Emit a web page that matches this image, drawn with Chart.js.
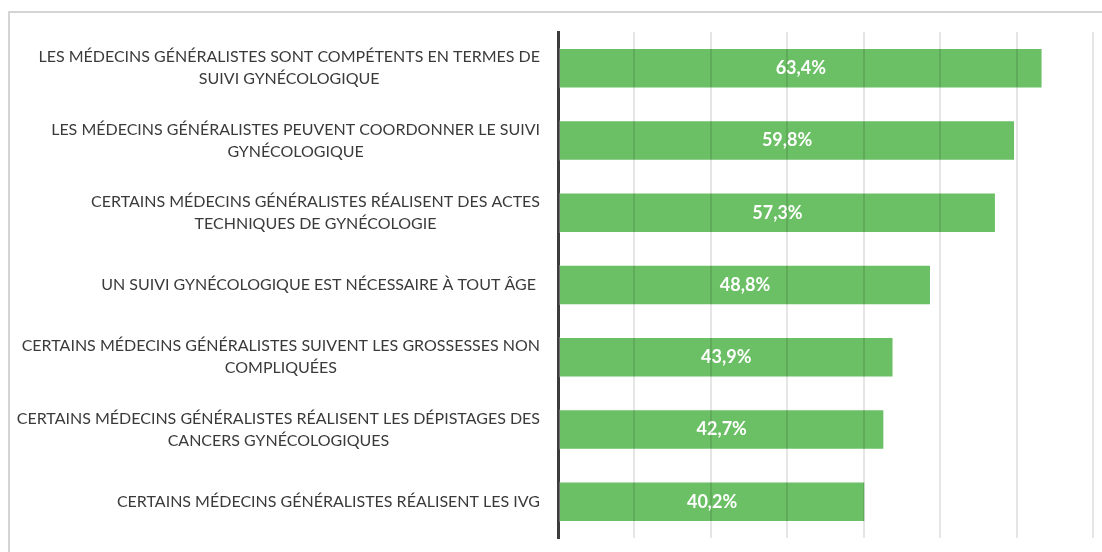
<!DOCTYPE html>
<html>
<head>
<meta charset="utf-8">
<script src="https://cdn.jsdelivr.net/npm/chart.js@4"></script>
<style>
  body { margin: 0; background: #fff; }
  #wrap { position: relative; width: 1102px; height: 552px; }
  #frame { position: absolute; left: 8px; top: 11px; right: -10px; bottom: -10px;
           border-top: 2px solid #d4d4d4; border-left: 2px solid #d4d4d4; }
</style>
</head>
<body>
<div id="wrap">
  <div id="frame"></div>
  <canvas id="chart"></canvas>
</div>
<script>
// libellés des affirmations (une ligne par entrée)
const categories = [
  ['LES MÉDECINS GÉNÉRALISTES SONT COMPÉTENTS EN TERMES DE', 'SUIVI GYNÉCOLOGIQUE'],
  ['LES MÉDECINS GÉNÉRALISTES PEUVENT COORDONNER LE SUIVI', 'GYNÉCOLOGIQUE'],
  ['CERTAINS MÉDECINS GÉNÉRALISTES RÉALISENT DES ACTES', 'TECHNIQUES DE GYNÉCOLOGIE'],
  ['UN SUIVI GYNÉCOLOGIQUE EST NÉCESSAIRE À TOUT ÂGE '],
  ['CERTAINS MÉDECINS GÉNÉRALISTES SUIVENT LES GROSSESSES NON', 'COMPLIQUÉES'],
  ['CERTAINS MÉDECINS GÉNÉRALISTES RÉALISENT LES DÉPISTAGES DES', 'CANCERS GYNÉCOLOGIQUES'],
  ['CERTAINS MÉDECINS GÉNÉRALISTES RÉALISENT LES IVG']
];
const valeurs = [63.4, 59.8, 57.3, 48.8, 43.9, 42.7, 40.2];
const xTicks = [0, 10, 20, 30, 40, 50, 60, 70];

const labelFont = '16px Lato, "Open Sans", sans-serif';

// libellés à gauche : bloc aligné à droite, lignes centrées
const labelsPlugin = {
  id: 'blocLabels',
  afterDraw(chart) {
    const { ctx } = chart;
    const y = chart.scales.y;
    ctx.save();
    ctx.font = labelFont;
    ctx.fillStyle = '#3a3a3a';
    ctx.textAlign = 'center';
    ctx.textBaseline = 'middle';
    categories.forEach((lines, i) => {
      const cy = y.getPixelForTick(i);
      const w = Math.max(...lines.map(l => ctx.measureText(l).width));
      const cx = 540 - w / 2;
      const lh = 22;
      lines.forEach((l, j) => {
        ctx.fillText(l, cx, cy + (j - (lines.length - 1) / 2) * lh);
      });
    });
    ctx.restore();
  }
};

// valeurs en blanc au centre des barres
const valuesPlugin = {
  id: 'valeurs',
  afterDatasetsDraw(chart) {
    const { ctx } = chart;
    const meta = chart.getDatasetMeta(0);
    ctx.save();
    ctx.font = 'bold 18px Lato, "Open Sans", sans-serif';
    ctx.fillStyle = '#ffffff';
    ctx.textAlign = 'center';
    ctx.textBaseline = 'middle';
    meta.data.forEach((bar, i) => {
      const mid = (bar.x + bar.base) / 2;
      ctx.fillText(valeurs[i].toFixed(1).replace('.', ',') + '%', mid, bar.y);
    });
    ctx.restore();
  }
};

new Chart(document.getElementById('chart'), {
  type: 'bar',
  data: {
    labels: categories,
    datasets: [{
      data: valeurs,
      backgroundColor: '#6bbf64',
      borderColor: 'rgba(255,255,255,0.25)',
      borderWidth: 1,
      borderSkipped: false,
      categoryPercentage: 1,
      barPercentage: 0.56
    }]
  },
  options: {
    indexAxis: 'y',
    responsive: true,
    maintainAspectRatio: false,
    animation: false,
    layout: { padding: { top: 32, bottom: 14, right: 9 } },
    plugins: {
      legend: { display: false },
      tooltip: { enabled: false }
    },
    scales: {
      x: {
        min: 0,
        max: 70,
        afterBuildTicks: s => { s.ticks = xTicks.map(v => ({ value: v })); },
        ticks: { display: false },
        border: { display: false },
        grid: {
          z: 1,
          drawTicks: false,
          lineWidth: 2,
          color: c => c.tick && c.tick.value === 0 ? 'transparent' : 'rgba(0,0,0,0.1)'
        }
      },
      y: {
        z: 2,
        ticks: { display: false },
        grid: { display: false, drawTicks: false },
        border: { display: true, color: '#3c3c3c', width: 3 },
        afterFit: s => { s.width = 558; }
      }
    }
  },
  plugins: [labelsPlugin, valuesPlugin]
});
</script>
</body>
</html>
